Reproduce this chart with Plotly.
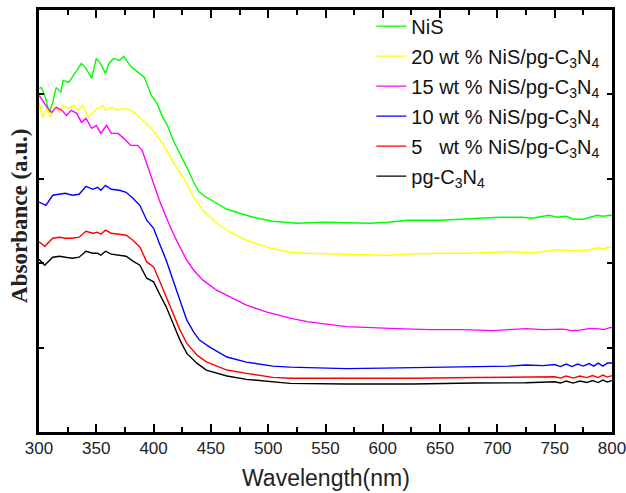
import plotly.graph_objects as go

# UV-vis diffuse reflectance absorbance spectra (arbitrary units)
wl_nis = [300, 302, 305, 309, 312, 315, 319, 321, 326, 330, 334, 337, 341, 346, 350, 353, 358,
          361, 365, 370, 374, 378, 382, 387, 392, 398, 403, 408, 412, 417, 423, 429, 435, 440,
          446, 455, 464, 475, 487, 504, 525, 548, 570, 589, 605, 621, 650, 665, 679, 702, 722,
          730, 740, 745, 752, 760, 766, 775, 781, 787, 792, 798, 800]
abs_nis = [4.071, 4.083, 3.988, 3.787, 3.905, 4.083, 4.024, 4.166, 4.142, 4.225, 4.308, 4.367,
           4.308, 4.189, 4.426, 4.379, 4.249, 4.367, 4.426, 4.402, 4.450, 4.367, 4.308, 4.249,
           4.201, 3.988, 3.893, 3.728, 3.633, 3.456, 3.302, 3.136, 2.959, 2.840, 2.781, 2.710,
           2.639, 2.592, 2.544, 2.497, 2.473, 2.485, 2.479, 2.473, 2.485, 2.509, 2.509, 2.521,
           2.533, 2.544, 2.544, 2.533, 2.556, 2.568, 2.544, 2.556, 2.521, 2.521, 2.544, 2.568,
           2.556, 2.568, 2.562]

wl_20 = [300, 303, 307, 310, 314, 318, 321, 326, 331, 334, 338, 343, 347, 351, 356, 358, 364,
         368, 374, 380, 386, 392, 398, 404, 410, 417, 426, 435, 443, 455, 467, 481, 499, 519,
         534, 560, 586, 605, 621, 650, 679, 695, 708, 731, 752, 765, 778, 787, 793, 798, 800]
abs_20 = [3.905, 3.728, 3.834, 3.728, 3.846, 3.787, 3.870, 3.834, 3.870, 3.811, 3.870, 3.728,
          3.787, 3.834, 3.870, 3.811, 3.846, 3.811, 3.834, 3.811, 3.751, 3.669, 3.598, 3.491,
          3.373, 3.195, 3.018, 2.781, 2.627, 2.473, 2.367, 2.272, 2.189, 2.130, 2.118, 2.107,
          2.095, 2.095, 2.107, 2.118, 2.118, 2.130, 2.136, 2.124, 2.160, 2.148, 2.154, 2.183,
          2.172, 2.195, 2.189]

wl_15 = [300, 302, 307, 311, 315, 320, 324, 328, 333, 337, 341, 346, 350, 354, 359, 363, 369,
         374, 380, 386, 390, 394, 400, 405, 411, 417, 423, 429, 435, 443, 455, 467, 481, 499,
         519, 534, 568, 612, 641, 670, 696, 710, 725, 740, 757, 765, 772, 780, 787, 793, 798, 800]
abs_15 = [3.988, 3.953, 3.846, 3.787, 3.846, 3.811, 3.751, 3.811, 3.775, 3.669, 3.716, 3.598,
          3.633, 3.538, 3.633, 3.538, 3.538, 3.479, 3.396, 3.396, 3.337, 3.183, 2.947, 2.746,
          2.544, 2.355, 2.189, 2.036, 1.917, 1.799, 1.680, 1.598, 1.503, 1.420, 1.349, 1.308,
          1.249, 1.225, 1.213, 1.213, 1.201, 1.213, 1.225, 1.213, 1.219, 1.201, 1.207, 1.225,
          1.225, 1.213, 1.237, 1.237]

wl_10 = [300, 306, 312, 318, 323, 329, 335, 341, 347, 351, 354, 358, 363, 370, 376, 382, 388,
         394, 400, 405, 411, 417, 423, 429, 435, 440, 449, 464, 481, 504, 519, 540, 568, 600,
         626, 655, 680, 696, 710, 725, 740, 750, 755, 760, 765, 770, 775, 780, 784, 788, 792,
         796, 800]
abs_10 = [2.725, 2.686, 2.805, 2.817, 2.828, 2.805, 2.817, 2.911, 2.876, 2.899, 2.864, 2.923,
          2.876, 2.864, 2.840, 2.769, 2.686, 2.509, 2.414, 2.237, 2.036, 1.799, 1.562, 1.325,
          1.183, 1.089, 1.006, 0.888, 0.828, 0.781, 0.769, 0.763, 0.751, 0.757, 0.763, 0.769,
          0.769, 0.775, 0.781, 0.793, 0.787, 0.799, 0.775, 0.805, 0.775, 0.805, 0.781, 0.811,
          0.781, 0.817, 0.781, 0.817, 0.817]

wl_5 = [300, 305, 312, 318, 323, 329, 335, 341, 347, 351, 354, 358, 363, 370, 376, 382, 388,
        394, 400, 405, 411, 417, 423, 429, 438, 446, 464, 481, 504, 519, 568, 626, 680, 725,
        750, 755, 760, 766, 772, 778, 783, 788, 792, 796, 800]
abs_5 = [2.252, 2.201, 2.296, 2.308, 2.296, 2.296, 2.308, 2.379, 2.355, 2.367, 2.343, 2.391,
         2.355, 2.343, 2.331, 2.272, 2.193, 2.015, 1.956, 1.799, 1.601, 1.405, 1.207, 1.050,
         0.911, 0.832, 0.734, 0.695, 0.647, 0.636, 0.633, 0.636, 0.645, 0.647, 0.654, 0.639,
         0.663, 0.639, 0.663, 0.645, 0.669, 0.645, 0.675, 0.651, 0.669]

wl_pg = [300, 305, 312, 318, 323, 329, 335, 341, 347, 351, 354, 358, 363, 370, 376, 382, 388,
         394, 400, 405, 411, 417, 423, 429, 438, 446, 464, 481, 504, 519, 568, 626, 680, 725,
         750, 755, 760, 766, 772, 778, 783, 788, 792, 796, 800]
abs_pg = [2.047, 1.976, 2.071, 2.083, 2.071, 2.059, 2.071, 2.142, 2.118, 2.118, 2.095, 2.142,
          2.107, 2.095, 2.083, 2.024, 1.976, 1.822, 1.779, 1.641, 1.483, 1.286, 1.089, 0.931,
          0.813, 0.734, 0.663, 0.624, 0.595, 0.576, 0.568, 0.568, 0.580, 0.583, 0.595, 0.580,
          0.604, 0.580, 0.604, 0.586, 0.609, 0.586, 0.615, 0.592, 0.609]

series = [
    ("NiS", wl_nis, abs_nis, "#00ff00"),
    ("20 wt % NiS/pg-C<sub>3</sub>N<sub>4</sub>", wl_20, abs_20, "#ffff00"),
    ("15 wt % NiS/pg-C<sub>3</sub>N<sub>4</sub>", wl_15, abs_15, "#ff00ff"),
    ("10 wt % NiS/pg-C<sub>3</sub>N<sub>4</sub>", wl_10, abs_10, "#0000ff"),
    ("5\u00a0\u00a0 wt % NiS/pg-C<sub>3</sub>N<sub>4</sub>", wl_5, abs_5, "#ff0000"),
    ("pg-C<sub>3</sub>N<sub>4</sub>", wl_pg, abs_pg, "#000000"),
]

fig = go.Figure()
for i, (name, x, y, color) in enumerate(series):
    fig.add_trace(go.Scatter(x=x, y=y, mode="lines", name=name, legendgroup=f"g{i}",
                             line=dict(color=color, width=1.4)))

axis_common = dict(showline=True, linecolor="black", linewidth=3, mirror="allticks",
                   ticks="inside", tickcolor="black", tickwidth=2, showgrid=False,
                   zeroline=False)

fig.update_xaxes(range=[300, 800], tick0=300, dtick=50, ticklen=8, ticklabelstandoff=-1,
                 ticklabeloverflow="allow",
                 tickfont=dict(family="Liberation Sans", size=17, color="#222"),
                 minor=dict(ticks="inside", dtick=25, ticklen=5, tickwidth=2,
                            tickcolor="black", showgrid=False),
                 **axis_common)
fig.update_yaxes(range=[0, 5], dtick=1, ticklen=5, showticklabels=False, **axis_common)

fig.add_annotation(text="Wavelength(nm)", xref="paper", yref="paper", x=0.5, y=-0.11,
                   xanchor="center", yanchor="middle", showarrow=False,
                   font=dict(family="Liberation Sans", size=23, color="#222"))
fig.add_annotation(text="<b>Absorbance (a.u.)</b>", xref="paper", yref="paper",
                   x=-0.0332, y=0.512, xanchor="center", yanchor="middle", textangle=-90,
                   showarrow=False,
                   font=dict(family="Liberation Serif", size=23, color="#222"))

fig.update_layout(
    width=626, height=493,
    margin=dict(l=39, r=14, t=10, b=61, autoexpand=False),
    paper_bgcolor="white", plot_bgcolor="white",
    showlegend=True,
    legend=dict(x=0.58, y=1.008, xanchor="left", yanchor="top",
                bgcolor="rgba(0,0,0,0)", borderwidth=0, tracegroupgap=1,
                font=dict(family="Liberation Sans", size=20, color="#111")),
)

fig.write_html("out.html")
